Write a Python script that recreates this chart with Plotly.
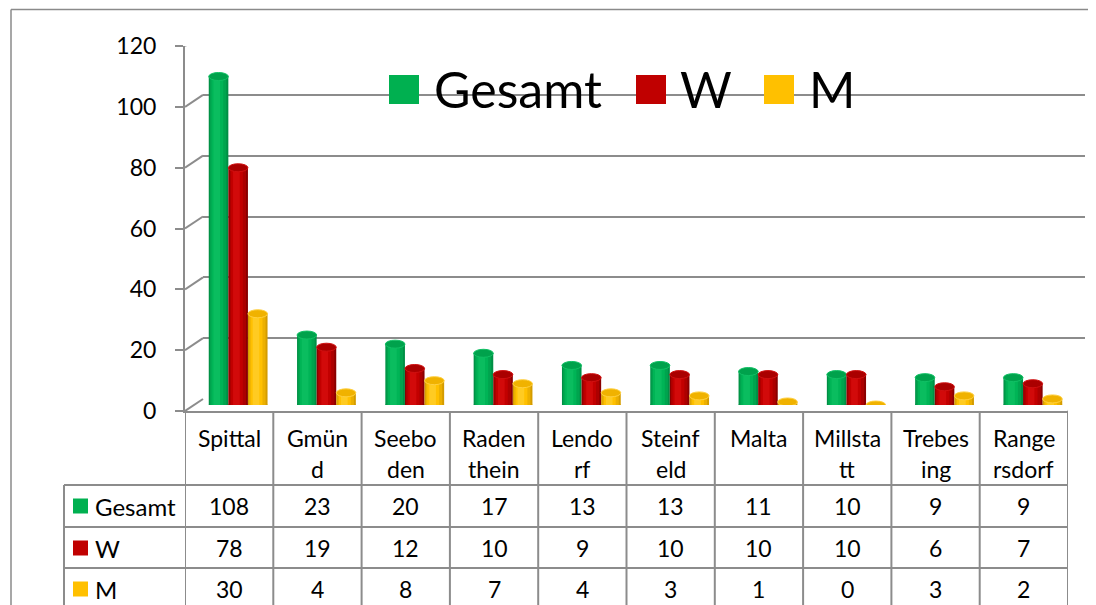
import plotly.graph_objects as go

# ---------------- data ----------------
categories = ["Spittal", "Gmünd", "Seeboden", "Radenthein", "Lendorf",
              "Steinfeld", "Malta", "Millstatt", "Trebesing", "Rangersdorf"]
header_line1 = ["Spittal", "Gmün", "Seebo", "Raden", "Lendo",
                "Steinf", "Malta", "Millsta", "Trebes", "Range"]
header_line2 = ["", "d", "den", "thein", "rf", "eld", "", "tt", "ing", "rsdorf"]
gesamt = [108, 23, 20, 17, 13, 13, 11, 10, 9, 9]
w_vals = [78, 19, 12, 10, 9, 10, 10, 10, 6, 7]
m_vals = [30, 4, 8, 7, 4, 3, 1, 0, 3, 2]
series_names = ["Gesamt", "W", "M"]
y_ticks = [0, 20, 40, 60, 80, 100, 120]

# ---------------- styling ----------------
W, H = 1096, 605
OX, OY = 8, 8   # page body margin offset
FONT = "Lato"
GRID = "#8c8c8c"
palette = {
    "Gesamt": dict(main="#00B050", shades=["#008f45", "#00a44e", "#00b456", "#0abd5f"],
                   cap="#00a24c", rim="#10c064"),
    "W": dict(main="#C00000", shades=["#8a0000", "#ac0000", "#c20000", "#d20a0a"],
              cap="#aa0000", rim="#d01010"),
    "M": dict(main="#FFC000", shades=["#d49c00", "#ecb000", "#ffc000", "#ffcb22"],
              cap="#f0b200", rim="#ffd040"),
}
series_vals = [gesamt, w_vals, m_vals]
n = len(categories)


def fx(x):
    return (x - OX) / W


def fy(y):
    return 1 - (y - OY) / H


fig = go.Figure()

fig.add_trace(go.Scatter(x=[None], y=[None], xaxis="x", yaxis="y", showlegend=False, hoverinfo="skip"))
fig.add_trace(go.Scatter(x=[None], y=[None], xaxis="x2", yaxis="y2", showlegend=False, hoverinfo="skip"))

# ---------------- cylinders ----------------
BW = 0.222
stripe_geom = [(0.0, 1.0), (0.06, 0.84), (0.14, 0.60), (0.24, 0.34)]
shapes = []
for k, (name, vals) in enumerate(zip(series_names, series_vals)):
    p = palette[name]
    c = (k - 1) * BW
    for (o, f), col in zip(stripe_geom, p["shades"]):
        fig.add_trace(go.Bar(
            x=categories, y=vals, xaxis="x3", yaxis="y3",
            offset=c - BW / 2 + o * BW, width=f * BW,
            marker=dict(color=col, line=dict(width=0)),
            name=name, showlegend=False, hoverinfo="x+y+name"))
    for i, v in enumerate(vals):
        shapes.append(dict(type="circle", xref="x3", yref="y3", layer="between",
                           x0=i + c - BW / 2, x1=i + c + BW / 2,
                           ysizemode="pixel", yanchor=0, y0=-4, y1=4,
                           fillcolor=p["shades"][1], line=dict(width=0)))
        shapes.append(dict(type="circle", xref="x3", yref="y3", layer="above",
                           x0=i + c - BW / 2, x1=i + c + BW / 2,
                           ysizemode="pixel", yanchor=v, y0=-4, y1=4,
                           fillcolor=p["cap"], line=dict(width=1, color=p["rim"])))

# ---------------- 3D wall connectors ----------------
for t in y_ticks:
    shapes.append(dict(type="line", xref="x", yref="y", layer="below",
                       xsizemode="pixel", xanchor=-0.5, x0=0, x1=18,
                       ysizemode="pixel", yanchor=t, y0=0, y1=12,
                       line=dict(color=GRID, width=2)))
shapes.append(dict(type="line", xref="x", yref="y", layer="below",
                   xsizemode="pixel", xanchor=n - 0.5, x0=0, x1=17,
                   ysizemode="pixel", yanchor=0, y0=0, y1=12,
                   line=dict(color=GRID, width=2)))

# ---------------- data table ----------------
row_tops = [485, 527, 568]
row_centers = [506, 548, 589]
for yy in row_tops + [610]:
    shapes.append(dict(type="line", xref="paper", yref="paper",
                       x0=fx(64), x1=fx(1068), y0=fy(yy), y1=fy(yy),
                       line=dict(color=GRID, width=2)))
for i in range(n + 1):
    shapes.append(dict(type="line", xref="x", yref="paper",
                       x0=i - 0.5, x1=i - 0.5, y0=fy(411), y1=fy(615),
                       line=dict(color=GRID, width=2)))
shapes.append(dict(type="line", xref="paper", yref="paper",
                   x0=fx(64), x1=fx(64), y0=fy(485), y1=fy(615),
                   line=dict(color=GRID, width=2)))

annotations = []
TF = dict(family=FONT, size=23, color="black")
for i in range(n):
    annotations.append(dict(xref="x", yref="paper", x=i, y=fy(438), text=header_line1[i],
                            showarrow=False, xanchor="center", yanchor="middle", font=TF))
    if header_line2[i]:
        annotations.append(dict(xref="x", yref="paper", x=i, y=fy(469), text=header_line2[i],
                                showarrow=False, xanchor="center", yanchor="middle", font=TF))
for r, (name, vals) in enumerate(zip(series_names, series_vals)):
    yc = row_centers[r]
    for i, v in enumerate(vals):
        annotations.append(dict(xref="x", yref="paper", x=i, y=fy(yc), text=str(v),
                                showarrow=False, xanchor="center", yanchor="middle", font=TF))
    shapes.append(dict(type="rect", xref="paper", yref="paper",
                       x0=fx(73), x1=fx(88), y0=fy(yc + 7.5), y1=fy(yc - 7.5),
                       fillcolor=palette[name]["main"], line=dict(width=0)))
    annotations.append(dict(xref="paper", yref="paper", x=fx(93), y=fy(yc), text=name,
                            showarrow=False, xanchor="left", yanchor="middle",
                            font=dict(family=FONT, size=24, color="black")))

# ---------------- big legend ----------------
leg_sq = [389, 636, 764]
leg_tx = [432, 678, 807]
for name, sx, tx in zip(series_names, leg_sq, leg_tx):
    shapes.append(dict(type="rect", xref="paper", yref="paper",
                       x0=fx(sx), x1=fx(sx + 30), y0=fy(104), y1=fy(75),
                       fillcolor=palette[name]["main"], line=dict(width=0)))
    annotations.append(dict(xref="paper", yref="paper", x=fx(tx), y=fy(89), text=name,
                            showarrow=False, xanchor="left", yanchor="middle",
                            font=dict(family=FONT, size=50, color="black")))

# ---------------- outer frame ----------------
shapes.append(dict(type="line", xref="paper", yref="paper", x0=fx(11), x1=fx(1110), y0=fy(9.5), y1=fy(9.5),
                   line=dict(color="#8a8a8a", width=1.5)))
shapes.append(dict(type="line", xref="paper", yref="paper", x0=fx(11), x1=fx(11), y0=fy(9.5), y1=fy(620),
                   line=dict(color="#8a8a8a", width=1.5)))

# ---------------- layout ----------------
fig.update_layout(
    template="none",
    width=W, height=H, margin=dict(l=0, r=0, t=0, b=0, pad=0, autoexpand=False),
    paper_bgcolor="white", plot_bgcolor="rgba(0,0,0,0)",
    font=dict(family=FONT, color="black"),
    barmode="overlay", showlegend=False,
    shapes=shapes, annotations=annotations,
    xaxis=dict(domain=[fx(185), fx(1068)], range=[-0.5, n - 0.5], anchor="y",
               showgrid=False, zeroline=False, showticklabels=False, ticks="",
               showline=True, linecolor=GRID, linewidth=2, automargin=False),
    yaxis=dict(domain=[fy(411), fy(46)], range=[0, 120], anchor="x",
               tickvals=y_ticks, ticks="outside", ticklen=8, tickwidth=2, tickcolor=GRID,
               showgrid=False, zeroline=False, showline=True, linecolor=GRID, linewidth=2,
               ticklabelstandoff=14, automargin=False,
               tickfont=dict(family=FONT, size=23, color="black")),
    xaxis2=dict(domain=[fx(203), fx(1085)], range=[-0.5, n - 0.5], anchor="y2",
                visible=False, automargin=False),
    yaxis2=dict(domain=[fy(399), fy(34)], range=[0, 120], anchor="x2",
                tickvals=y_ticks, showgrid=True, gridcolor=GRID, gridwidth=2,
                zeroline=False, showticklabels=False, ticks="", showline=False, automargin=False),
    xaxis3=dict(domain=[fx(194), fx(1077)], type="category", categoryorder="array",
                categoryarray=categories, range=[-0.5, n - 0.5], anchor="y3",
                visible=False, automargin=False),
    yaxis3=dict(domain=[fy(405), fy(40)], range=[0, 120], anchor="x3",
                visible=False, automargin=False),
)

fig.write_html("out.html")
